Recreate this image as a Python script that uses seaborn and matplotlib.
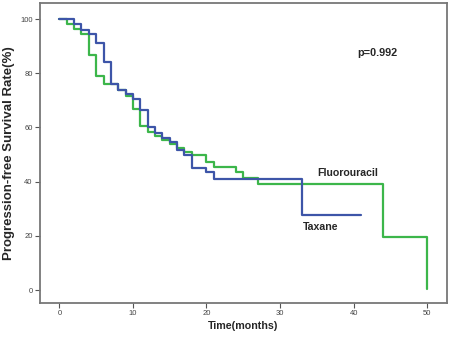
import matplotlib
matplotlib.use("Agg")
import matplotlib.pyplot as plt
import seaborn as sns
import pandas as pd

# Taxane (blue) step curve: times and survival after each step
taxane_time = [0, 2, 3, 4, 5, 6, 7, 8, 9, 10, 11, 12, 13, 14, 15, 16, 17, 18, 20, 21, 33, 41]
taxane_surv = [100, 98, 96, 94.5, 91, 84, 76, 74, 72.5, 70.5, 66.5, 60, 58, 56, 54.5, 51.5, 50, 45, 43.5, 41, 27.5, 27.5]

# Fluorouracil (green) step curve
fluoro_time = [0, 1, 2, 3, 4, 5, 6, 8, 9, 10, 11, 12, 13, 14, 15, 16, 17, 18, 20, 21, 24, 25, 27, 44, 50, 50]
fluoro_surv = [100, 98, 96.3, 94.4, 86.7, 79, 76, 73.8, 71.6, 66.7, 60.5, 58.5, 57, 55.5, 54, 52.5, 51, 50, 47.3, 45.5, 43.7, 41.2, 39.3, 19.7, 19.7, 0.5]

group_names = ["Taxane", "Fluorouracil"]
x_ticks = [0, 10, 20, 30, 40, 50]
y_ticks = [0, 20, 40, 60, 80, 100]

df = pd.concat([
    pd.DataFrame({"time": taxane_time, "surv": taxane_surv, "group": group_names[0]}),
    pd.DataFrame({"time": fluoro_time, "surv": fluoro_surv, "group": group_names[1]}),
], ignore_index=True)

sns.set_style("white")
plt.rcParams["font.family"] = ["Liberation Sans", "DejaVu Sans"]

fig = plt.figure(figsize=(4.52, 3.42), dpi=100)
ax = fig.add_axes([0.0874, 0.114, 0.9016, 0.877])

palette = {"Taxane": "#3d55a8", "Fluorouracil": "#3cb64a"}
for g in ["Fluorouracil", "Taxane"]:
    sub = df[df["group"] == g]
    sns.lineplot(data=sub, x="time", y="surv", ax=ax, color=palette[g],
                 drawstyle="steps-post", linewidth=1.6, estimator=None, sort=False)

ax.set_xlim(-2.7, 52.7)
ax.set_ylim(-4.8, 105.9)
ax.set_xticks(x_ticks)
ax.set_yticks(y_ticks)
ax.tick_params(axis="both", which="major", direction="out", length=3.5, width=0.8,
               color="#555555", labelsize=5.5, labelcolor="#444444", pad=1.5,
               bottom=True, left=True)
for s in ax.spines.values():
    s.set_color("#777777")
    s.set_linewidth(1.3)
    s.set_visible(True)

ax.set_xlabel("Time(months)", fontsize=7.7, fontweight="bold", labelpad=3)
ax.set_ylabel("Progression-free Survival Rate(%)", fontsize=9.5, fontweight="bold", labelpad=4)

ax.text(43.2, 87.4, "p=0.992", fontsize=7.8, fontweight="bold", ha="center", va="center")
ax.text(39.2, 43.3, "Fluorouracil", fontsize=7.6, fontweight="bold", ha="center", va="center")
ax.text(35.5, 23.3, "Taxane", fontsize=7.6, fontweight="bold", ha="center", va="center")

fig.savefig("out.png", dpi=100)
